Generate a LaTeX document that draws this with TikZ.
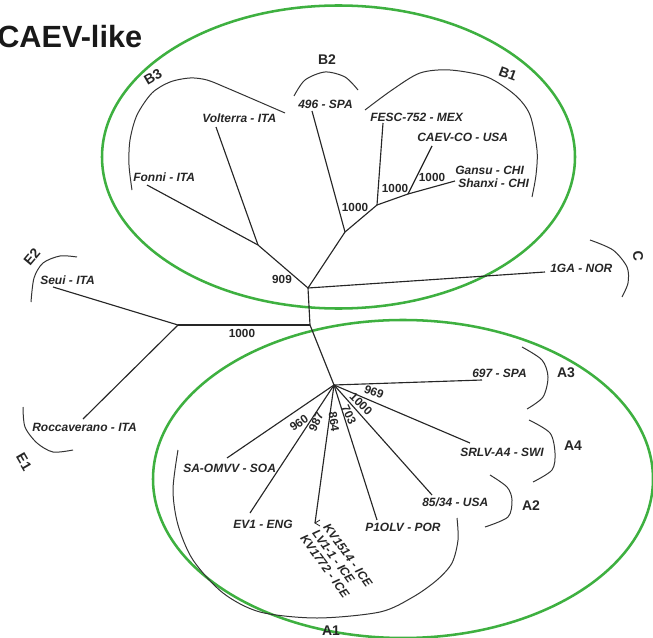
\documentclass[tikz,border=0pt]{standalone}
\usepackage{fontspec}
\setmainfont{Liberation Sans}
\definecolor{ggreen}{RGB}{62,176,64}
\begin{document}
\begin{tikzpicture}[x=0.75pt,y=-0.75pt,
  br/.style={line width=0.85pt, black!85},
  clade/.style={line width=0.75pt, black!80},
  grp/.style={draw=ggreen, line width=1.9pt},
  leaf/.style={font=\fontsize{9}{10}\selectfont\bfseries\itshape, inner sep=0pt, anchor=west, text=black!85},
  boot/.style={font=\fontsize{8.8}{10}\selectfont\bfseries, inner sep=0pt, text=black!85},
  cl/.style={font=\fontsize{10.5}{12}\selectfont\bfseries, inner sep=0pt, text=black!85},
  ttl/.style={font=\fontsize{23}{26}\selectfont\bfseries, inner sep=0pt, anchor=base west, text=black!90}]
\useasboundingbox (0,0) rectangle (653,638);

% title
\node[ttl] (title) at (-3,48) {CAEV-like};

% green groups
\draw[grp] (338.5,157) ellipse [x radius=236.5, y radius=151.5];
\draw[grp] (403,479) ellipse [x radius=250, y radius=159];

% internal coordinates
\coordinate (n909) at (308,288);
\coordinate (n1) at (310,325);
\coordinate (nE) at (178,325);
\coordinate (nA) at (334,385);
\coordinate (nB3) at (258,245);
\coordinate (nB) at (345,232);
\coordinate (nB1) at (377,205);
\coordinate (nB1b) at (408,194);
\coordinate (nB1c) at (455,181);
% leaf ends
\coordinate (lVol) at (216,127);
\coordinate (lFon) at (147,185);
\coordinate (l496) at (312,111);
\coordinate (lFESC) at (383,123);
\coordinate (lCAEV) at (432,146);
\coordinate (l1GA) at (545,272);
\coordinate (lSeui) at (53,287);
\coordinate (lRoc) at (83,419);
\coordinate (l697) at (482,380);
\coordinate (lSRLV) at (470,443);
\coordinate (l8534) at (432,495);
\coordinate (lP1) at (377,520);
\coordinate (lKV) at (315,523);
\coordinate (lEV1) at (250,513);
\coordinate (lSA) at (227,458);
\coordinate (kv1) at (320,520);
\coordinate (kv2) at (320,526);

% branches
\draw[br] (n909) -- (n1) -- (nA);
\draw[br] (n1) -- (nE);
\draw[br] (n909) -- (l1GA);
\draw[br] (n909) -- (nB3);
\draw[br] (nB3) -- (lVol);
\draw[br] (nB3) -- (lFon);
\draw[br] (n909) -- (nB);
\draw[br] (nB) -- (l496);
\draw[br] (nB) -- (nB1);
\draw[br] (nB1) -- (lFESC);
\draw[br] (nB1) -- (nB1b);
\draw[br] (nB1b) -- (lCAEV);
\draw[br] (nB1b) -- (nB1c);
\draw[br] (nE) -- (lSeui);
\draw[br] (nE) -- (lRoc);
\draw[br] (nA) -- (l697);
\draw[br] (nA) -- (lSRLV);
\draw[br] (nA) -- (l8534);
\draw[br] (nA) -- (lP1);
\draw[br] (nA) -- (lKV);
\draw[br] (nA) -- (lEV1);
\draw[br] (nA) -- (lSA);
\draw[br, line width=0.6pt] (kv1) -- (lKV) -- (kv2);

% leaf labels
\node[leaf] (tVol) at (202,118) {Volterra - ITA};
\node[leaf] (tFon) at (133,177) {Fonni - ITA};
\node[leaf] (t496) at (298,104) {496 - SPA};
\node[leaf] (tFESC) at (370,117) {FESC-752 - MEX};
\node[leaf] (tCAEV) at (417,137) {CAEV-CO - USA};
\node[leaf] (tGan) at (455,170) {Gansu - CHI};
\node[leaf] (tSha) at (458,183) {Shanxi - CHI};
\node[leaf] (t1GA) at (550,268) {1GA - NOR};
\node[leaf] (tSeui) at (40,280) {Seui - ITA};
\node[leaf] (tRoc) at (32,427) {Roccaverano - ITA};
\node[leaf] (t697) at (472,373) {697 - SPA};
\node[leaf] (tSRLV) at (460,452) {SRLV-A4 - SWI};
\node[leaf] (t8534) at (422,502) {85/34 - USA};
\node[leaf] (tP1) at (365,527) {P1OLV - POR};
\node[leaf] (tEV1) at (233,524) {EV1 - ENG};
\node[leaf] (tSA) at (183,468) {SA-OMVV - SOA};
\node[leaf, rotate=-54] (tKV1) at (326,525) {KV1514 - ICE};
\node[leaf, rotate=-54] (tLV) at (315,531) {LV1-1 - ICE};
\node[leaf, rotate=-54] (tKV2) at (303,536) {KV1772 - ICE};

% bootstrap values
\node[boot] (b909) at (282,279) {909};
\node[boot] (bE) at (242,333) {1000};
\node[boot] (bB) at (355,207) {1000};
\node[boot] (bB1) at (395,188) {1000};
\node[boot] (bB1b) at (432,177) {1000};
\node[boot, rotate=35] (b960) at (299,423) {960};
\node[boot, rotate=65] (b987) at (316,422) {987};
\node[boot, rotate=-82] (b864) at (334,422) {864};
\node[boot, rotate=-65] (b703) at (349,415) {703};
\node[boot, rotate=-45] (b1000) at (361,404) {1000};
\node[boot, rotate=-22] (b969) at (374,392) {969};

% clade brackets
\draw[clade] plot[smooth] coordinates {(132,190) (129,165) (130,140) (137,115) (152,93) (170,82) (190,78) (207,80) (227,88) (255,100) (285,113)};
\draw[clade] plot[smooth] coordinates {(294,96) (305,80) (325,72) (345,77) (358,90)};
\draw[clade] plot[smooth] coordinates {(365,110) (392,90) (420,73) (450,70) (487,77) (515,95) (530,115) (537,150) (536,175) (532,197)};
\draw[clade] plot[smooth] coordinates {(590,240) (613,250) (627,267) (628,283) (622,297)};
\draw[clade] plot[smooth] coordinates {(522,347) (542,360) (548,377) (543,397) (527,409)};
\draw[clade] plot[smooth] coordinates {(529,420) (550,433) (555,453) (552,470) (533,482)};
\draw[clade] plot[smooth] coordinates {(490,475) (507,487) (512,500) (508,517) (485,527)};
\draw[clade] plot[smooth] coordinates {(178,450) (173,490) (178,525) (193,560) (223,593) (260,612) (317,618) (380,612) (413,597) (437,580) (452,563) (458,540) (457,518)};
\draw[clade] plot[smooth] coordinates {(77,257) (60,256) (43,263) (34,278) (31,302)};
\draw[clade] plot[smooth] coordinates {(23,407) (25,427) (37,443) (53,452) (73,450)};

% clade labels
\node[cl, rotate=30] (cB3) at (153,77) {B3};
\node[cl] (cB2) at (327,60) {B2};
\node[cl, rotate=-20] (cB1) at (508,74) {B1};
\node[cl, rotate=-85] (cC) at (638,256) {C};
\node[cl] (cA3) at (566,373) {A3};
\node[cl] (cA4) at (573,446) {A4};
\node[cl] (cA2) at (531,506) {A2};
\node[cl] (cA1) at (331,631) {A1};
\node[cl, rotate=50] (cE2) at (32,257) {E2};
\node[cl, rotate=-60] (cE1) at (24,462) {E1};
\end{tikzpicture}
\end{document}
